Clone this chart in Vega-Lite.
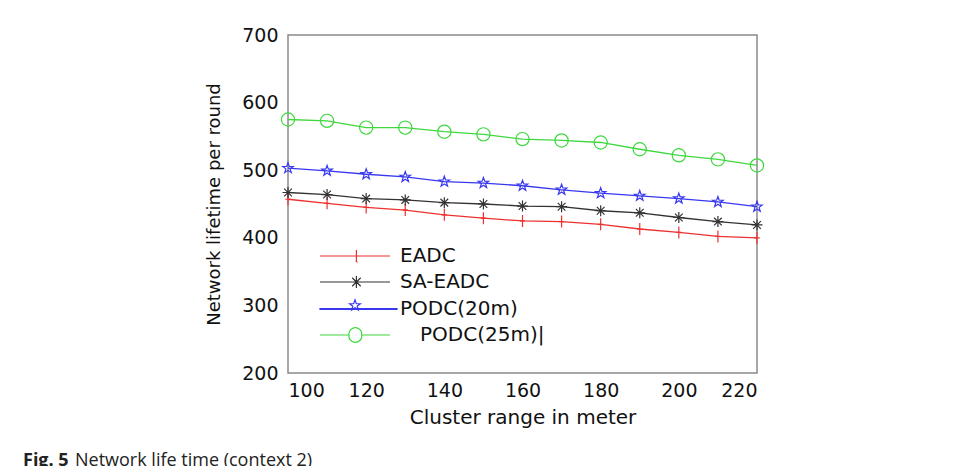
{
  "$schema": "https://vega.github.io/schema/vega-lite/v6.json",
  "autosize": "none",
  "width": 469,
  "height": 338,
  "padding": {"left": 288, "top": 35, "right": 201, "bottom": 93},
  "background": "white",
  "config": {
    "view": {"stroke": "#8a8a8a", "strokeWidth": 1.5},
    "axis": {"grid": false, "domain": false, "labelColor": "#111", "titleColor": "#111", "labelFont": "DejaVu Sans", "titleFont": "DejaVu Sans", "titleFontWeight": "normal", "ticks": false}
  },
  "title": {
    "text": "Fig. 5",
    "subtitle": "\u2800\u2800\u2800\u2800Network life time (context 2)",
    "orient": "bottom",
    "anchor": "start",
    "frame": "group",
    "dx": -265,
    "offset": 25,
    "font": "Open Sans",
    "fontSize": 18,
    "fontWeight": "bold",
    "color": "#222",
    "subtitleFont": "Open Sans",
    "subtitleFontSize": 18,
    "subtitleFontWeight": "normal",
    "subtitleColor": "#222",
    "subtitlePadding": -18
  },
  "data": {
    "values": [
      {"cr": 100, "lifetime": 457, "series": "EADC"},
      {"cr": 110, "lifetime": 451, "series": "EADC"},
      {"cr": 120, "lifetime": 445, "series": "EADC"},
      {"cr": 130, "lifetime": 441, "series": "EADC"},
      {"cr": 140, "lifetime": 434, "series": "EADC"},
      {"cr": 150, "lifetime": 429, "series": "EADC"},
      {"cr": 160, "lifetime": 425, "series": "EADC"},
      {"cr": 170, "lifetime": 424, "series": "EADC"},
      {"cr": 180, "lifetime": 420, "series": "EADC"},
      {"cr": 190, "lifetime": 413, "series": "EADC"},
      {"cr": 200, "lifetime": 408, "series": "EADC"},
      {"cr": 210, "lifetime": 402, "series": "EADC"},
      {"cr": 220, "lifetime": 400, "series": "EADC"},
      {"cr": 100, "lifetime": 467, "series": "SA-EADC"},
      {"cr": 110, "lifetime": 464, "series": "SA-EADC"},
      {"cr": 120, "lifetime": 458, "series": "SA-EADC"},
      {"cr": 130, "lifetime": 456, "series": "SA-EADC"},
      {"cr": 140, "lifetime": 452, "series": "SA-EADC"},
      {"cr": 150, "lifetime": 450, "series": "SA-EADC"},
      {"cr": 160, "lifetime": 447, "series": "SA-EADC"},
      {"cr": 170, "lifetime": 446, "series": "SA-EADC"},
      {"cr": 180, "lifetime": 440, "series": "SA-EADC"},
      {"cr": 190, "lifetime": 437, "series": "SA-EADC"},
      {"cr": 200, "lifetime": 430, "series": "SA-EADC"},
      {"cr": 210, "lifetime": 424, "series": "SA-EADC"},
      {"cr": 220, "lifetime": 419, "series": "SA-EADC"},
      {"cr": 100, "lifetime": 503, "series": "PODC(20m)"},
      {"cr": 110, "lifetime": 499, "series": "PODC(20m)"},
      {"cr": 120, "lifetime": 494, "series": "PODC(20m)"},
      {"cr": 130, "lifetime": 490, "series": "PODC(20m)"},
      {"cr": 140, "lifetime": 483, "series": "PODC(20m)"},
      {"cr": 150, "lifetime": 481, "series": "PODC(20m)"},
      {"cr": 160, "lifetime": 477, "series": "PODC(20m)"},
      {"cr": 170, "lifetime": 471, "series": "PODC(20m)"},
      {"cr": 180, "lifetime": 466, "series": "PODC(20m)"},
      {"cr": 190, "lifetime": 462, "series": "PODC(20m)"},
      {"cr": 200, "lifetime": 458, "series": "PODC(20m)"},
      {"cr": 210, "lifetime": 453, "series": "PODC(20m)"},
      {"cr": 220, "lifetime": 446, "series": "PODC(20m)"},
      {"cr": 100, "lifetime": 575, "series": "PODC(25m)"},
      {"cr": 110, "lifetime": 573, "series": "PODC(25m)"},
      {"cr": 120, "lifetime": 563, "series": "PODC(25m)"},
      {"cr": 130, "lifetime": 563, "series": "PODC(25m)"},
      {"cr": 140, "lifetime": 557, "series": "PODC(25m)"},
      {"cr": 150, "lifetime": 553, "series": "PODC(25m)"},
      {"cr": 160, "lifetime": 546, "series": "PODC(25m)"},
      {"cr": 170, "lifetime": 544, "series": "PODC(25m)"},
      {"cr": 180, "lifetime": 541, "series": "PODC(25m)"},
      {"cr": 190, "lifetime": 531, "series": "PODC(25m)"},
      {"cr": 200, "lifetime": 522, "series": "PODC(25m)"},
      {"cr": 210, "lifetime": 516, "series": "PODC(25m)"},
      {"cr": 220, "lifetime": 507, "series": "PODC(25m)"}
    ]
  },
  "encoding": {
    "x": {
      "field": "cr", "type": "quantitative",
      "scale": {"domain": [100, 220], "nice": false, "zero": false},
      "axis": {"values": [100, 120, 140, 160, 180, 200, 220], "labelFontSize": 19, "labelPadding": 8, "title": "Cluster range in meter", "titleFontSize": 20, "titlePadding": 7}
    },
    "y": {
      "field": "lifetime", "type": "quantitative",
      "scale": {"domain": [200, 700], "nice": false, "zero": false},
      "axis": {"values": [200, 300, 400, 500, 600, 700], "labelFontSize": 19, "labelPadding": 10, "title": "Network lifetime per round", "titleFontSize": 18, "titlePadding": 18}
    }
  },
  "layer": [
    {
      "mark": {"type": "line", "strokeWidth": 1.3},
      "encoding": {
        "color": {
          "field": "series", "type": "nominal",
          "scale": {"domain": ["EADC", "SA-EADC", "PODC(20m)", "PODC(25m)"], "range": ["#ee3030", "#333333", "#3838f0", "#3ed83e"]},
          "legend": {
            "title": null,
            "orient": "none",
            "legendX": 56,
            "legendY": 210,
            "padding": 0,
            "symbolSize": 400,
            "symbolStrokeWidth": 1.2,
            "labelOffset": 34,
            "labelFont": "DejaVu Sans",
            "labelFontSize": 20,
            "labelColor": "#111",
            "labelLimit": 300,
            "rowPadding": 5,
            "labelExpr": "datum.value === 'PODC(25m)' ? datum.value + '|' : datum.value",
            "encode": {
              "symbols": {
                "update": {
                  "shape": {"signal": "datum.value === 'EADC' ? 'M-3.5,0H3.5M0.14,-0.6V0.6M0.14,0.6H0.28' : datum.value === 'SA-EADC' ? 'M-3.5,0H3.5M0.14,-0.6V0.6M-0.46,0H0.74M-0.28,-0.42L0.57,0.42M-0.28,0.42L0.57,-0.42' : datum.value === 'PODC(20m)' ? 'M-3.5,-0.05H4.2V0.05H-3.5ZM0,-0.92L0.134,-0.54L0.537,-0.527L0.219,-0.283L0.332,0.103L0,-0.124L-0.332,0.103L-0.219,-0.283L-0.537,-0.527L-0.134,-0.54Z' : 'M-3.5,0H-0.6M0.67,0H3.5M0.67,0A0.64,0.64 0 1,1 -0.6,0A0.64,0.64 0 1,1 0.67,0'"},
                  "fill": {"value": "transparent"},
                  "strokeWidth": {"value": 1.2}
                }
              },
              "labels": {
                "update": {
                  "dx": {"signal": "datum.value === 'PODC(25m)' ? 20 : 0"}
                }
              }
            }
          }
        }
      }
    },
    {
      "transform": [{"filter": "datum.series === 'EADC'"}],
      "mark": {"type": "point", "filled": false, "strokeWidth": 1.2, "opacity": 1, "color": "#ee3030", "shape": "M0,-1V1M-0.45,0H0.45", "size": 144}
    },
    {
      "transform": [{"filter": "datum.series === 'SA-EADC'"}],
      "mark": {"type": "point", "filled": false, "strokeWidth": 1.2, "opacity": 1, "color": "#333333", "shape": "M0,-1V1M-1,0H1M-0.7,-0.7L0.7,0.7M-0.7,0.7L0.7,-0.7", "size": 121}
    },
    {
      "transform": [{"filter": "datum.series === 'PODC(20m)'"}],
      "mark": {"type": "point", "filled": false, "strokeWidth": 1.2, "opacity": 1, "color": "#3838f0", "shape": "M0,-1L0.235,-0.324L0.951,-0.309L0.38,0.124L0.588,0.809L0,0.4L-0.588,0.809L-0.38,0.124L-0.951,-0.309L-0.235,-0.324Z", "size": 121}
    },
    {
      "transform": [{"filter": "datum.series === 'PODC(25m)'"}],
      "mark": {"type": "point", "filled": false, "strokeWidth": 1.2, "opacity": 1, "color": "#3ed83e", "shape": "circle", "size": 175}
    }
  ]
}
